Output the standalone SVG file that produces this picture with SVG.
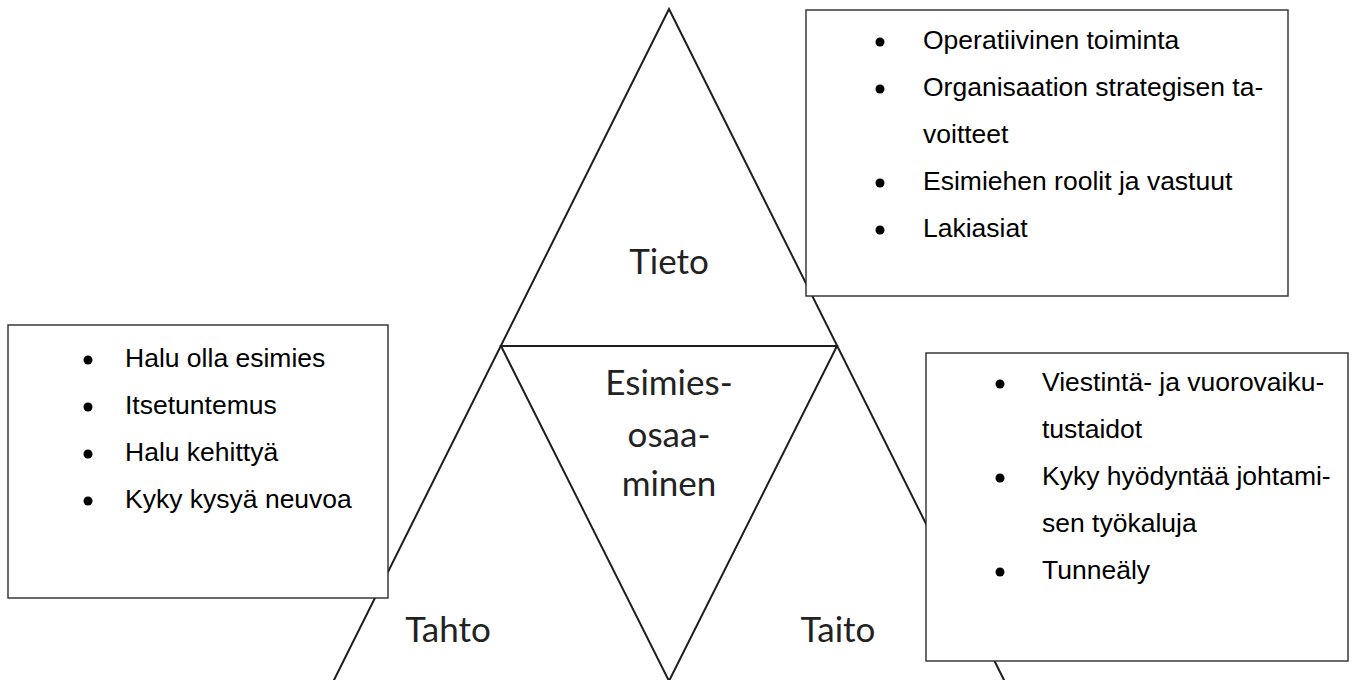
<svg xmlns="http://www.w3.org/2000/svg" width="1359" height="680" viewBox="0 0 1359 680">
<style>
.ln{stroke:#1e1e1e;stroke-width:2;fill:none;stroke-linecap:round;stroke-linejoin:miter}
.box{fill:#ffffff;stroke:#2b2b2b;stroke-width:1.4}
.lbl{font-family:Lato,"Open Sans",sans-serif;font-size:35px;fill:#222;text-anchor:middle}
.it{font-family:"Liberation Sans",Arial,sans-serif;font-size:26.5px;fill:#000}
.bl{fill:#000}
</style>
<g id="connectors">
<path class="ln" d="M334,680 L669,9 L1004,680"/>
<path class="ln" d="M501,346 L837,346 L669,681 Z"/>
</g>
<g id="tieto"><text class="lbl" x="669" y="274">Tieto</text></g>
<g id="esimiesosaaminen">
<text class="lbl" x="669" y="395">Esimies-</text>
<text class="lbl" x="669" y="447">osaa-</text>
<text class="lbl" x="669" y="496">minen</text>
</g>
<g id="tahto"><text class="lbl" x="448" y="642">Tahto</text></g>
<g id="taito"><text class="lbl" x="838" y="642">Taito</text></g>
<g id="box-tieto">
<rect class="box" x="806" y="10" width="482" height="286"/>
<circle class="bl" cx="880" cy="42" r="4.5"/>
<circle class="bl" cx="880" cy="89" r="4.5"/>
<circle class="bl" cx="880" cy="183" r="4.5"/>
<circle class="bl" cx="880" cy="230" r="4.5"/>
<text class="it" x="923" y="49">Operatiivinen toiminta</text>
<text class="it" x="923" y="96">Organisaation strategisen ta-</text>
<text class="it" x="923" y="143">voitteet</text>
<text class="it" x="923" y="190">Esimiehen roolit ja vastuut</text>
<text class="it" x="923" y="237">Lakiasiat</text>
</g>
<g id="box-tahto">
<rect class="box" x="8" y="325" width="380" height="273"/>
<circle class="bl" cx="88" cy="360" r="4.5"/>
<circle class="bl" cx="88" cy="407" r="4.5"/>
<circle class="bl" cx="88" cy="454" r="4.5"/>
<circle class="bl" cx="88" cy="501" r="4.5"/>
<text class="it" x="125" y="367">Halu olla esimies</text>
<text class="it" x="125" y="414">Itsetuntemus</text>
<text class="it" x="125" y="461">Halu kehittyä</text>
<text class="it" x="125" y="508">Kyky kysyä neuvoa</text>
</g>
<g id="box-taito">
<rect class="box" x="926" y="353" width="422" height="308"/>
<circle class="bl" cx="1000" cy="384" r="4.5"/>
<circle class="bl" cx="1000" cy="478" r="4.5"/>
<circle class="bl" cx="1000" cy="572" r="4.5"/>
<text class="it" x="1042" y="391">Viestintä- ja vuorovaiku-</text>
<text class="it" x="1042" y="438">tustaidot</text>
<text class="it" x="1042" y="485">Kyky hyödyntää johtami-</text>
<text class="it" x="1042" y="532">sen työkaluja</text>
<text class="it" x="1042" y="579">Tunneäly</text>
</g>
</svg>
